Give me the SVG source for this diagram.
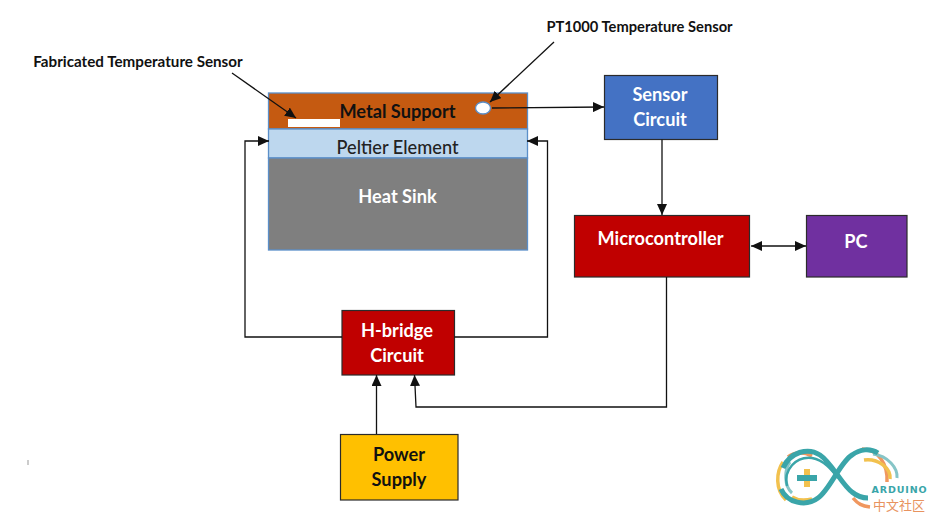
<svg xmlns="http://www.w3.org/2000/svg" width="931" height="514" viewBox="0 0 931 514">
<style>
text{font-family:Lato,"Liberation Sans",sans-serif;font-weight:700;text-anchor:middle}
.w{fill:#fff;font-size:18.2px}.k{fill:#111;font-size:18.2px}
.box{stroke:#2b2b2b;stroke-width:1.2}
.bl{stroke:#5b8fc9;stroke-width:1.3}
.hd{fill:none;stroke:#111;stroke-width:1.3;marker-end:url(#a)}
.lg{fill:none;stroke-width:3.500}
</style>
<defs><marker id="a" markerUnits="userSpaceOnUse" markerWidth="12" markerHeight="10" refX="11" refY="5" orient="auto"><path d="M0 0L11 5L0 10Z" fill="#111"/></marker></defs>
<rect width="931" height="514" fill="#fff"/>
<g id="label-fabricated"><text x="138" y="67" style="font-size:15.200px;fill:#111">Fabricated Temperature Sensor</text></g>
<g id="label-pt1000"><text x="639.500" y="32" style="font-size:14.700px;fill:#111">PT1000 Temperature Sensor</text></g>
<g id="metal-support"><rect class="bl" x="268.500" y="93" width="259" height="36" fill="#c55a11"/><rect x="288" y="119" width="52" height="8" fill="#fff"/><text class="k" x="397.500" y="118">Metal Support</text></g>
<g id="pt1000-sensor"><ellipse cx="483" cy="108" rx="7.500" ry="6" fill="#fff" stroke="#5b8fc9" stroke-width="1.300"/></g>
<g id="peltier"><rect class="bl" x="268.500" y="129" width="259" height="29" fill="#bdd7ee"/><text x="397.500" y="154" style="font-size:18.200px;fill:#222;font-weight:500">Peltier Element</text></g>
<g id="heat-sink"><rect class="bl" x="268.500" y="158" width="259" height="92" fill="#7f7f7f"/><text class="w" x="397.500" y="202.500">Heat Sink</text></g>
<g id="sensor-circuit"><rect class="box" x="604.500" y="75.500" width="113" height="64" fill="#4472c4"/><text class="w" x="660" y="100.500">Sensor</text><text class="w" x="660" y="125.500">Circuit</text></g>
<g id="microcontroller"><rect class="box" x="574.500" y="215.500" width="175" height="61.500" fill="#c00000"/><text class="w" x="660.500" y="244.500">Microcontroller</text></g>
<g id="pc"><rect class="box" x="806.500" y="215.500" width="100.500" height="61.500" fill="#7030a0"/><text class="w" x="856" y="247.500">PC</text></g>
<g id="h-bridge"><rect class="box" x="342" y="310.500" width="112.500" height="64.500" fill="#c00000"/><text class="w" x="397" y="336.500">H-bridge</text><text class="w" x="397" y="361.500">Circuit</text></g>
<g id="power-supply"><rect class="box" x="340.500" y="434.500" width="117.500" height="65.500" fill="#ffc000"/><text class="k" x="399" y="460.500">Power</text><text class="k" x="399" y="485.500">Supply</text></g>
<g id="connectors">
<path class="hd" d="M232 73L296 118"/>
<path class="hd" d="M554 42L490 102"/>
<path class="hd" d="M492 108L604 107"/>
<path class="hd" d="M662 139.500V215"/>
<path class="hd" d="M760 246H806"/>
<path class="hd" d="M760 246H751"/>
<path class="hd" d="M342 337H245V141H269"/>
<path class="hd" d="M454.500 337H547.500V141H527"/>
<path class="hd" d="M376.500 434V375"/>
<path class="hd" d="M666.500 277V407H416L414.500 375"/>
</g>
<rect x="27.500" y="460" width="1" height="5" fill="#999"/>
<g id="logo">
<path class="lg" stroke="#f2c14e" d="M783 462C776 472 775 490 786 500"/>
<path class="lg" stroke="#f0975f" d="M788 457C796 451 804 452 812 456M853 498C858 504 862 506 870 507M862 449C878 449 888 464 887 482"/>
<path class="lg" stroke="#f2c14e" d="M864 460C878 458 891 468 890 479M834 472L827 462M792 497C800 502 808 500 812 499"/>
<path fill="none" stroke="#86c5c7" stroke-width="3" d="M873 454C888 456 898 468 897 478M790 462C784 470 784 486 792 493"/>
<path fill="none" stroke="#3aa5a9" stroke-width="5" d="M783 468C790 452 808 447 820 455C832 463 842 485 852 492C858 497 864 498 868 498"/>
<path fill="none" stroke="#3aa5a9" stroke-width="5" d="M781 489C787 503 806 507 818 498C830 490 840 462 852 455C860 449 870 448 878 453"/>
<path fill="none" stroke="#3aa5a9" stroke-width="2.500" d="M787 486C783 470 796 456 812 458C824 460 832 470 838 478"/>
<rect x="797" y="475" width="20" height="6" fill="#3aa5a9"/><rect x="804" y="469" width="6" height="6" fill="#f2c14e"/><rect x="804" y="481" width="6" height="6" fill="#f2c14e"/>
<text x="899.500" y="492.500" style="font-size:9.500px;fill:#3aa5a9;letter-spacing:.9px;font-family:'DejaVu Sans',sans-serif">ARDUINO</text>
<text x="899" y="510" style="font-size:13px;fill:#e8935f;font-weight:400;font-family:'Noto Sans CJK SC',sans-serif">中文社区</text>
</g>
</svg>
